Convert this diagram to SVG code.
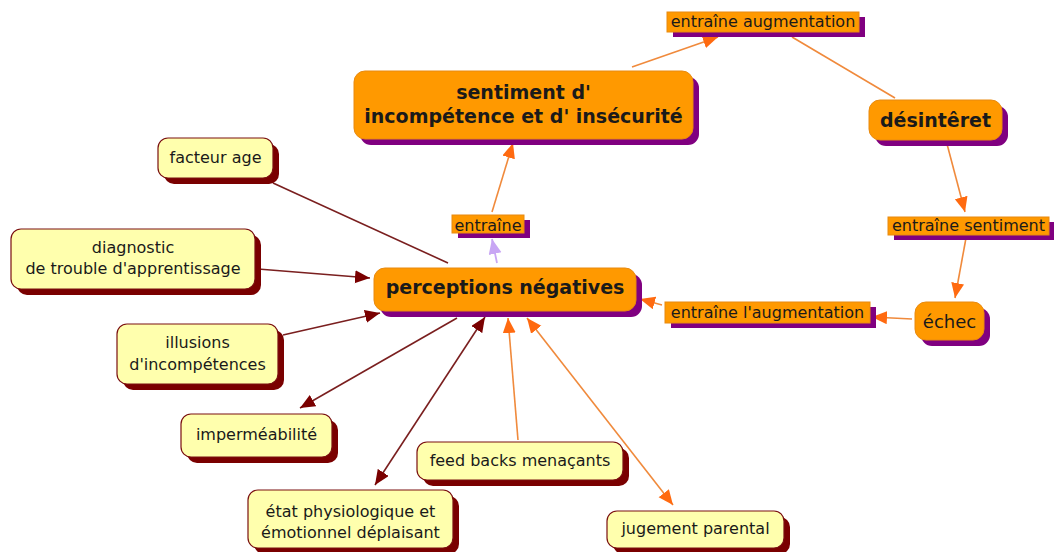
<svg xmlns="http://www.w3.org/2000/svg" width="1054" height="552" viewBox="0 0 1054 552">
<style>
.bg{fill:#ffffff}
.oshadow{fill:#800080}
.onode{fill:#ff9900;stroke:#e88a10;stroke-width:1}
.ynode{fill:#ffffad;stroke:#7a1010;stroke-width:1.2}
.yshadow{fill:#7a0000}
.t{font-family:"DejaVu Sans","Liberation Sans",sans-serif;fill:#1a1a1a;text-anchor:middle}
.b{font-weight:bold;font-size:19px}
.n{font-size:16px}
.lr{stroke:#7a1f1f;stroke-width:1.6;fill:none}
.lo{stroke:#f08a3c;stroke-width:1.6;fill:none}
.ll{stroke:#c8a6f4;stroke-width:1.8;fill:none}
</style>
<defs>
<marker id="ar" markerUnits="userSpaceOnUse" markerWidth="16" markerHeight="14" refX="15" refY="6.5" orient="auto-start-reverse"><path d="M0,0 L15,6.5 L0,13 z" fill="#7a0000"/></marker>
<marker id="ao" markerUnits="userSpaceOnUse" markerWidth="16" markerHeight="14" refX="15" refY="6.5" orient="auto-start-reverse"><path d="M0,0 L15,6.5 L0,13 z" fill="#ff6a10"/></marker>
<marker id="al" markerUnits="userSpaceOnUse" markerWidth="16" markerHeight="14" refX="15" refY="6.5" orient="auto-start-reverse"><path d="M0,0 L15,6.5 L0,13 z" fill="#c8a6f4"/></marker>
</defs>
<rect class="bg" x="0" y="0" width="1054" height="552"/>
<g id="connectors">
<path class="lo" d="M632,67 L718,37" marker-end="url(#ao)"/>
<path class="lo" d="M792,37 L895,98"/>
<path class="lo" d="M947,144 L965,212" marker-end="url(#ao)"/>
<path class="lo" d="M966,238 L955,298" marker-end="url(#ao)"/>
<path class="lo" d="M912,319 L872,317" marker-end="url(#ao)"/>
<path class="lo" d="M662,305 L640,299" marker-end="url(#ao)"/>
<path class="ll" d="M497,263 L492,239" marker-end="url(#al)"/>
<path class="lo" d="M492,212 L513,143" marker-end="url(#ao)"/>
<path class="lr" d="M273,183 L448,263"/>
<path class="lr" d="M258,269 L370,278" marker-end="url(#ar)"/>
<path class="lr" d="M283,335 L380,313" marker-end="url(#ar)"/>
<path class="lr" d="M457,318 L300,408" marker-end="url(#ar)"/>
<path class="lr" d="M375,485 L485,317" marker-start="url(#ar)" marker-end="url(#ar)"/>
<path class="lo" d="M518,440 L508,318" marker-end="url(#ao)"/>
<path class="lo" d="M673,505 L527,318" marker-start="url(#ao)" marker-end="url(#ao)"/>
</g>
<g id="n-sentiment">
<rect class="oshadow" x="360" y="77" width="339" height="68" rx="11"/>
<rect class="onode" x="354" y="71" width="339" height="68" rx="11"/>
<text class="t b" x="523.5" y="99">sentiment d'</text>
<text class="t b" x="523.5" y="123">incompétence et d' insécurité</text>
</g>
<g id="n-entraine-augmentation">
<rect class="oshadow" x="673" y="17" width="192" height="20"/>
<rect class="onode" x="667" y="12" width="192" height="20"/>
<text class="t n" x="763" y="27">entraîne augmentation</text>
</g>
<g id="n-desinteret">
<rect class="oshadow" x="875" y="106" width="133" height="40" rx="11"/>
<rect class="onode" x="869" y="100" width="133" height="40" rx="11"/>
<text class="t b" x="935.5" y="127">désintêret</text>
</g>
<g id="n-entraine-sentiment">
<rect class="oshadow" x="894" y="222" width="161" height="18"/>
<rect class="onode" x="888" y="217" width="161" height="18"/>
<text class="t n" x="968.5" y="231">entraîne sentiment</text>
</g>
<g id="n-echec">
<rect class="oshadow" x="921" y="308" width="69" height="38" rx="11"/>
<rect class="onode" x="915" y="302" width="69" height="38" rx="11"/>
<text class="t" style="font-size:18px" x="949.5" y="328">échec</text>
</g>
<g id="n-entraine-laugmentation">
<rect class="oshadow" x="671" y="307" width="205" height="21"/>
<rect class="onode" x="665" y="302" width="205" height="21"/>
<text class="t n" x="767.5" y="318">entraîne l'augmentation</text>
</g>
<g id="n-perceptions">
<rect class="oshadow" x="380" y="274" width="262" height="43" rx="11"/>
<rect class="onode" x="374" y="268" width="262" height="43" rx="11"/>
<text class="t b" x="505" y="294">perceptions négatives</text>
</g>
<g id="n-entraine">
<rect class="oshadow" x="458" y="220" width="72" height="18"/>
<rect class="onode" x="452" y="215" width="72" height="18"/>
<text class="t n" x="488" y="231">entraîne</text>
</g>
<g id="n-facteur">
<rect class="yshadow" x="164" y="144" width="115" height="40" rx="10"/>
<rect class="ynode" x="158" y="138" width="115" height="40" rx="10"/>
<text class="t n" x="215.5" y="163">facteur age</text>
</g>
<g id="n-diagnostic">
<rect class="yshadow" x="17" y="235" width="244" height="60" rx="10"/>
<rect class="ynode" x="11" y="229" width="244" height="60" rx="10"/>
<text class="t n" x="133" y="253">diagnostic</text>
<text class="t n" x="133" y="274">de trouble d'apprentissage</text>
</g>
<g id="n-illusions">
<rect class="yshadow" x="123" y="330" width="161" height="60" rx="10"/>
<rect class="ynode" x="117" y="324" width="161" height="60" rx="10"/>
<text class="t n" x="197.5" y="348">illusions</text>
<text class="t n" x="197.5" y="370">d'incompétences</text>
</g>
<g id="n-impermeabilite">
<rect class="yshadow" x="187" y="420" width="151" height="43" rx="10"/>
<rect class="ynode" x="181" y="414" width="151" height="43" rx="10"/>
<text class="t n" x="256.5" y="440">imperméabilité</text>
</g>
<g id="n-feedbacks">
<rect class="yshadow" x="423" y="448" width="206" height="38" rx="10"/>
<rect class="ynode" x="417" y="442" width="206" height="38" rx="10"/>
<text class="t n" x="520" y="466">feed backs menaçants</text>
</g>
<g id="n-etat">
<rect class="yshadow" x="254" y="496" width="205" height="58" rx="10"/>
<rect class="ynode" x="248" y="490" width="205" height="58" rx="10"/>
<text class="t n" x="350.5" y="517">état physiologique et</text>
<text class="t n" x="350.5" y="538">émotionnel déplaisant</text>
</g>
<g id="n-jugement">
<rect class="yshadow" x="613" y="517" width="177" height="37" rx="10"/>
<rect class="ynode" x="607" y="511" width="177" height="37" rx="10"/>
<text class="t n" x="695.5" y="534">jugement parental</text>
</g>
</svg>
